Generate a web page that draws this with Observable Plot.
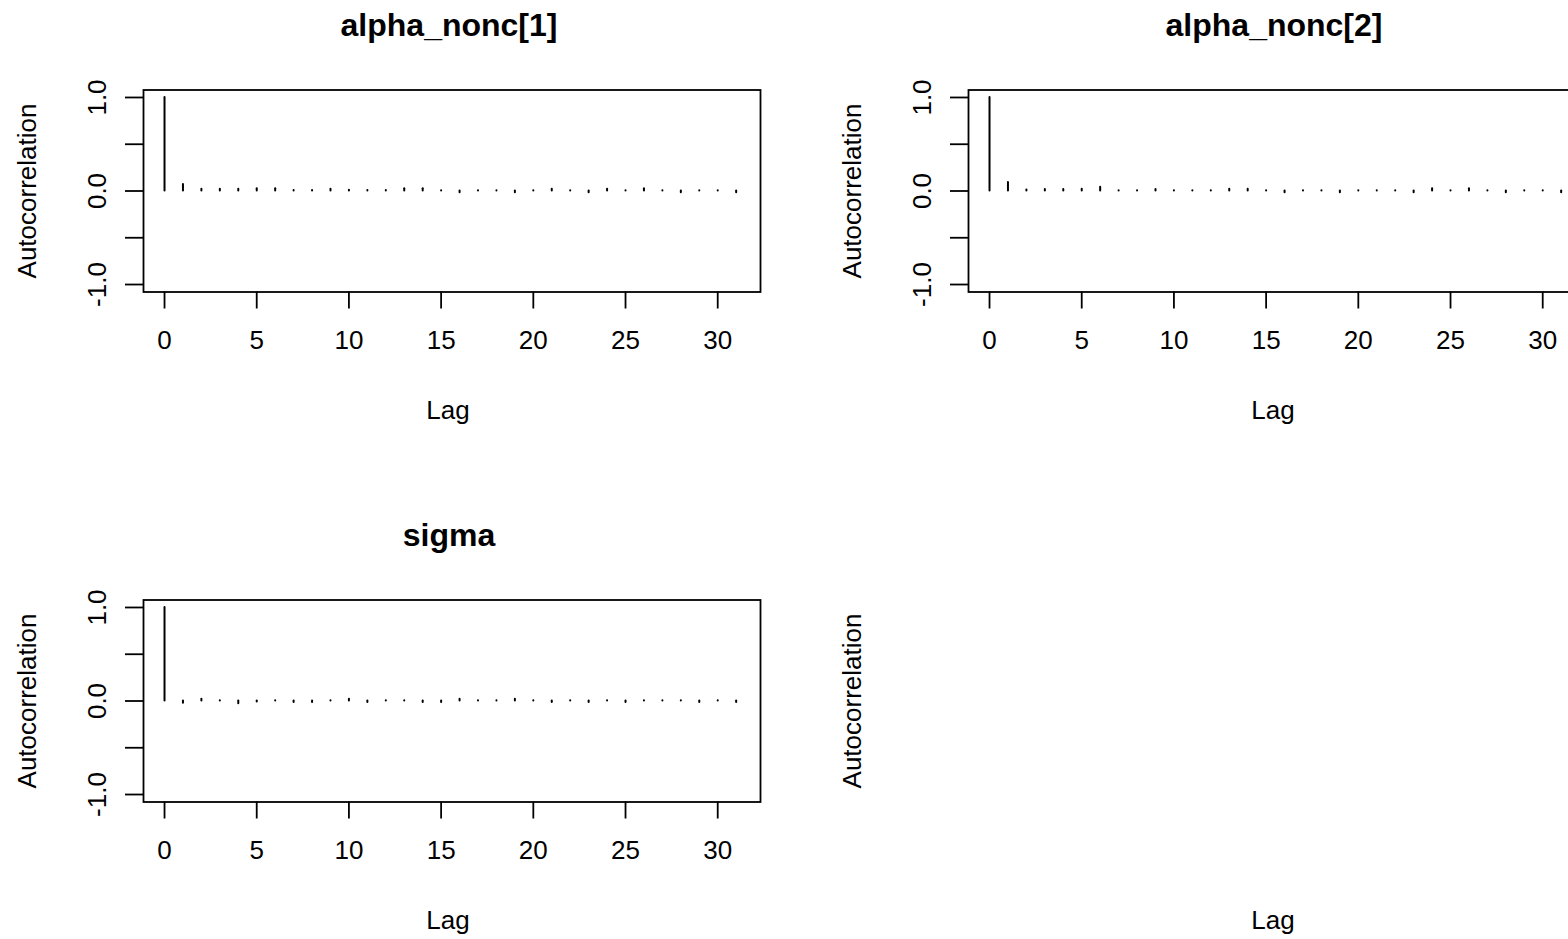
<!DOCTYPE html>
<html><head><meta charset="utf-8">
<script src="https://cdn.jsdelivr.net/npm/d3@7"></script>
<script src="https://cdn.jsdelivr.net/npm/@observablehq/plot@0.6"></script>
<style>
html,body{margin:0;padding:0;background:#fff;overflow:hidden;}
#root{position:relative;width:1568px;height:939px;overflow:hidden;background:#fff;}
.panel{position:absolute;overflow:hidden;}
</style></head><body><div id="root"></div>
<script>
const lags = [0,1,2,3,4,5,6,7,8,9,10,11,12,13,14,15,16,17,18,19,20,21,22,23,24,25,26,27,28,29,30,31];
const panelTitles = ["alpha_nonc[1]", "alpha_nonc[2]", "sigma"];
const acfAlpha1 = [1, 0.07, 0.02, 0.02, 0.02, 0.025, 0.025, 0.005, 0.005, 0.02, 0.008, 0.005, 0.005, 0.025, 0.025, 0.004,
  -0.02, 0.004, 0.004, -0.02, 0.004, 0.02, 0.004, -0.02, 0.02, 0.004, 0.025, 0.004, -0.02, 0.004, 0.004, -0.02];
const acfAlpha2 = [1, 0.09, 0.012, 0.015, 0.015, 0.02, 0.04, 0.004, 0.004, 0.015, 0.004, 0.004, 0.004, 0.02, 0.02, 0.004,
  -0.02, 0.004, 0.004, -0.02, 0.004, 0.004, 0.004, -0.02, 0.025, 0.004, 0.025, 0.004, -0.02, 0.004, 0.004, -0.02];
const acfSigma = [1, -0.025, 0.02, 0.004, -0.03, -0.01, 0.004, -0.015, -0.015, 0.004, 0.02, -0.015, 0.004, 0.004, -0.015, -0.015,
  0.02, 0.004, 0.004, 0.02, 0.004, -0.015, 0.004, -0.015, 0.004, -0.015, 0.004, 0.004, 0.004, -0.015, 0.004, -0.015];
const xTicks = [0, 5, 10, 15, 20, 25, 30];
const xTickLabels = ["0", "5", "10", "15", "20", "25", "30"];
const yTicks = [-1, -0.5, 0, 0.5, 1];
const yTickLabels = ["-1.0", "", "0.0", "", "1.0"];
const xLabel = "Lag";
const yLabel = "Autocorrelation";

const W = 800, H = 470;
const M = {left: 143, right: 40, top: 89.5, bottom: 178.5};
const FONT = "'Liberation Sans', Arial, sans-serif";
const xFmt = new Map(xTicks.map((t, i) => [t, xTickLabels[i]]));
const yFmt = new Map(yTicks.map((t, i) => [t, yTickLabels[i]]));

function labelMarks(title) {
  const marks = [
    Plot.text([yLabel], {frameAnchor: "left", dx: -116, rotate: -90, textAnchor: "middle", lineAnchor: "middle", fontSize: 26, fill: "black"}),
    Plot.text([xLabel], {frameAnchor: "bottom", dx: -4, dy: 118.5, textAnchor: "middle", lineAnchor: "middle", fontSize: 26, fill: "black"})
  ];
  if (title) marks.push(Plot.text([title], {frameAnchor: "top", dx: -3, dy: -64.5, textAnchor: "middle", lineAnchor: "middle", fontSize: 32, fontWeight: "bold", fill: "black"}));
  return marks;
}

function makePanel(title, values) {
  const data = lags.map((l, i) => ({lag: l, acf: values[i]}));
  return Plot.plot({
    width: W, height: H,
    marginLeft: M.left, marginRight: M.right, marginTop: M.top, marginBottom: M.bottom,
    style: {fontFamily: FONT, fontSize: "26px", background: "white", color: "black", maxWidth: "none"},
    x: {domain: [-1.14, 32.32]},
    y: {domain: [-1.08, 1.08]},
    marks: [
      Plot.frame({stroke: "black", strokeWidth: 1.8}),
      Plot.ruleX(data, {x: "lag", y1: 0, y2: "acf", stroke: "black", strokeWidth: 2, strokeLinecap: "round"}),
      Plot.axisX(xTicks, {tickSize: 17, tickPadding: 22, strokeWidth: 1.8, tickFormat: d => xFmt.get(d), label: null, fontSize: 26}),
      Plot.axisY(yTicks, {tickSize: 18, tickPadding: 20, tickRotate: -90, strokeWidth: 1.8, tickFormat: d => yFmt.get(d), label: null, fontSize: 26}),
      ...labelMarks(title)
    ]
  });
}

function makeEmptyPanel() {
  return Plot.plot({
    width: W, height: H,
    marginLeft: M.left, marginRight: M.right, marginTop: M.top, marginBottom: M.bottom,
    style: {fontFamily: FONT, fontSize: "26px", background: "white", color: "black", maxWidth: "none"},
    x: {domain: [-1.14, 32.32], axis: null},
    y: {domain: [-1.08, 1.08], axis: null},
    marks: labelMarks(null)
  });
}

const root = document.getElementById("root");
const cols = [0, 825], rows = [0, 510];
const panels = [
  {c: 0, r: 0, el: makePanel(panelTitles[0], acfAlpha1)},
  {c: 1, r: 0, el: makePanel(panelTitles[1], acfAlpha2)},
  {c: 0, r: 1, el: makePanel(panelTitles[2], acfSigma)},
  {c: 1, r: 1, el: makeEmptyPanel()}
];
for (const p of panels) {
  const div = document.createElement("div");
  div.className = "panel";
  div.style.left = cols[p.c] + "px";
  div.style.top = rows[p.r] + "px";
  div.style.width = Math.min(W, 1568 - cols[p.c]) + "px";
  div.style.height = Math.min(H, 939 - rows[p.r]) + "px";
  div.appendChild(p.el);
  root.appendChild(div);
}
</script></body></html>
